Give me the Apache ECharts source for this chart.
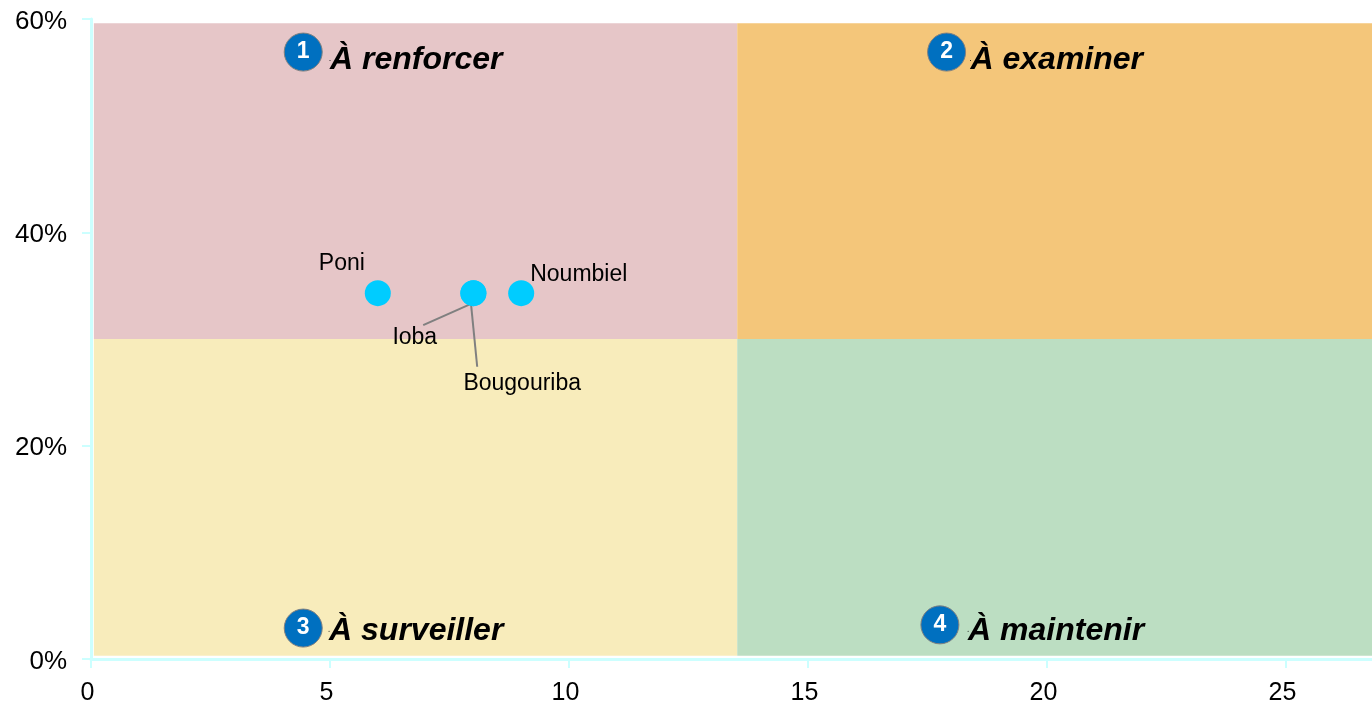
<!DOCTYPE html>
<html>
<head>
<meta charset="utf-8">
<title>Quadrants</title>
<script src="https://cdn.jsdelivr.net/npm/echarts@6/dist/echarts.min.js"></script>
<style>
  html, body { margin: 0; padding: 0; background: #fff; }
  #chart { width: 1372px; height: 703px; }
</style>
</head>
<body>
<div id="chart"></div>
<script>
// points
const names = ['Poni', 'Ioba', 'Bougouriba', 'Noumbiel'];
const xValues = [6, 8, 8, 9];
const yValues = [34.3, 34.3, 34.3, 34.3];

// quadrant edges, in axis units
const xEdges = [0.06, 13.52, 26.8];
const yEdges = [0.3, 30, 59.6];

const quadrantTitles = ['À renforcer', 'À examiner', 'À surveiller', 'À maintenir'];
const badgeNumbers = ['1', '2', '3', '4'];
const badgeX = [4.44, 17.9, 4.44, 17.76];
const badgeY = [56.9, 56.9, 2.9, 3.2];
const titleX = [5.0, 18.4, 4.98, 18.35];
const titleY = [56.1, 56.1, 2.6, 2.6];

// leader lines, [x, y]
const ioba_leader = [[6.95, 31.3], [7.95, 33.3]];
const bougouriba_leader = [[7.95, 33.3], [8.08, 27.4]];

const yTicks = { min: 0, max: 60, interval: 20 };
const xTicks = { min: 0, max: 26.8, interval: 5 };

// label offsets from the point centre
const labelOffsets = {
    Poni: [-59, -29],
    Ioba: [-81, 45],
    Bougouriba: [-10, 91],
    Noumbiel: [9, -18]
};

const font = '"Liberation Sans", Arial, sans-serif';
const axisColor = '#ccffff';

const chart = echarts.init(document.getElementById('chart'));

const leader = (points) => ({
    type: 'line',
    data: points,
    showSymbol: false,
    silent: true,
    z: 3,
    lineStyle: { color: '#808080', width: 2 }
});

chart.setOption({
    animation: false,
    backgroundColor: '#fff',
    grid: { left: 91, right: 0, top: 19, bottom: 44, outerBoundsMode: 'none' },
    xAxis: {
        type: 'value',
        min: xTicks.min,
        max: xTicks.max,
        interval: xTicks.interval,
        splitLine: { show: false },
        axisLine: { show: true, onZero: false, lineStyle: { color: axisColor, width: 3 } },
        axisTick: { show: true, length: 9, lineStyle: { color: axisColor, width: 2 } },
        axisLabel: {
            color: '#000',
            fontFamily: font,
            fontSize: 25,
            margin: 22,
            padding: [0, 7, 0, 0],
            showMaxLabel: false
        }
    },
    yAxis: {
        type: 'value',
        min: yTicks.min,
        max: yTicks.max,
        interval: yTicks.interval,
        splitLine: { show: false },
        axisLine: { show: true, onZero: false, lineStyle: { color: axisColor, width: 3 } },
        axisTick: { show: true, length: 9, lineStyle: { color: axisColor, width: 2 } },
        axisLabel: {
            margin: 24,
            formatter: '{pct|{value}%}',
            rich: {
                // extra room on top pushes the text level with its tick
                pct: { color: '#000', fontFamily: font, fontSize: 26, padding: [5, 0, 0, 0] }
            }
        }
    },
    series: [
        {
            type: 'scatter',
            name: 'points',
            z: 4,
            symbolSize: 26,
            itemStyle: { color: '#00ccff', opacity: 1 },
            data: names.map((n, i) => ({
                name: n,
                value: [xValues[i], yValues[i]],
                label: { offset: labelOffsets[n] }
            })),
            label: {
                show: true,
                position: 'inside',
                align: 'left',
                verticalAlign: 'middle',
                formatter: '{b}',
                color: '#000',
                fontFamily: font,
                fontSize: 23
            },
            markArea: {
                silent: true,
                data: [
                    [{ coord: [xEdges[0], yEdges[2]], itemStyle: { color: '#e6c6c8', opacity: 1 } }, { coord: [xEdges[1], yEdges[1]] }],
                    [{ coord: [xEdges[1], yEdges[2]], itemStyle: { color: '#f4c67a', opacity: 1 } }, { coord: [xEdges[2], yEdges[1]] }],
                    [{ coord: [xEdges[0], yEdges[1]], itemStyle: { color: '#f8ecbb', opacity: 1 } }, { coord: [xEdges[1], yEdges[0]] }],
                    [{ coord: [xEdges[1], yEdges[1]], itemStyle: { color: '#bcdec2', opacity: 1 } }, { coord: [xEdges[2], yEdges[0]] }]
                ]
            }
        },
        leader(ioba_leader),
        leader(bougouriba_leader),
        {
            type: 'scatter',
            name: 'badges',
            z: 5,
            symbolSize: 38,
            silent: true,
            itemStyle: { color: '#0070c0', borderColor: '#808080', borderWidth: 1, opacity: 1 },
            data: badgeNumbers.map((n, i) => ({ name: n, value: [badgeX[i], badgeY[i]] })),
            label: {
                show: true,
                position: 'inside',
                formatter: '{b}',
                color: '#fff',
                fontFamily: font,
                fontWeight: 'bold',
                fontSize: 23
            }
        },
        {
            type: 'scatter',
            name: 'titles',
            z: 5,
            symbolSize: 1,
            silent: true,
            itemStyle: { color: '#000', opacity: 1 },
            data: quadrantTitles.map((t, i) => ({ name: t, value: [titleX[i], titleY[i]] })),
            label: {
                show: true,
                position: 'inside',
                align: 'left',
                verticalAlign: 'middle',
                formatter: '{b}',
                color: '#000',
                opacity: 1,
                fontFamily: font,
                fontWeight: 'bold',
                fontStyle: 'italic',
                fontSize: 32
            }
        }
    ]
});
</script>
</body>
</html>
